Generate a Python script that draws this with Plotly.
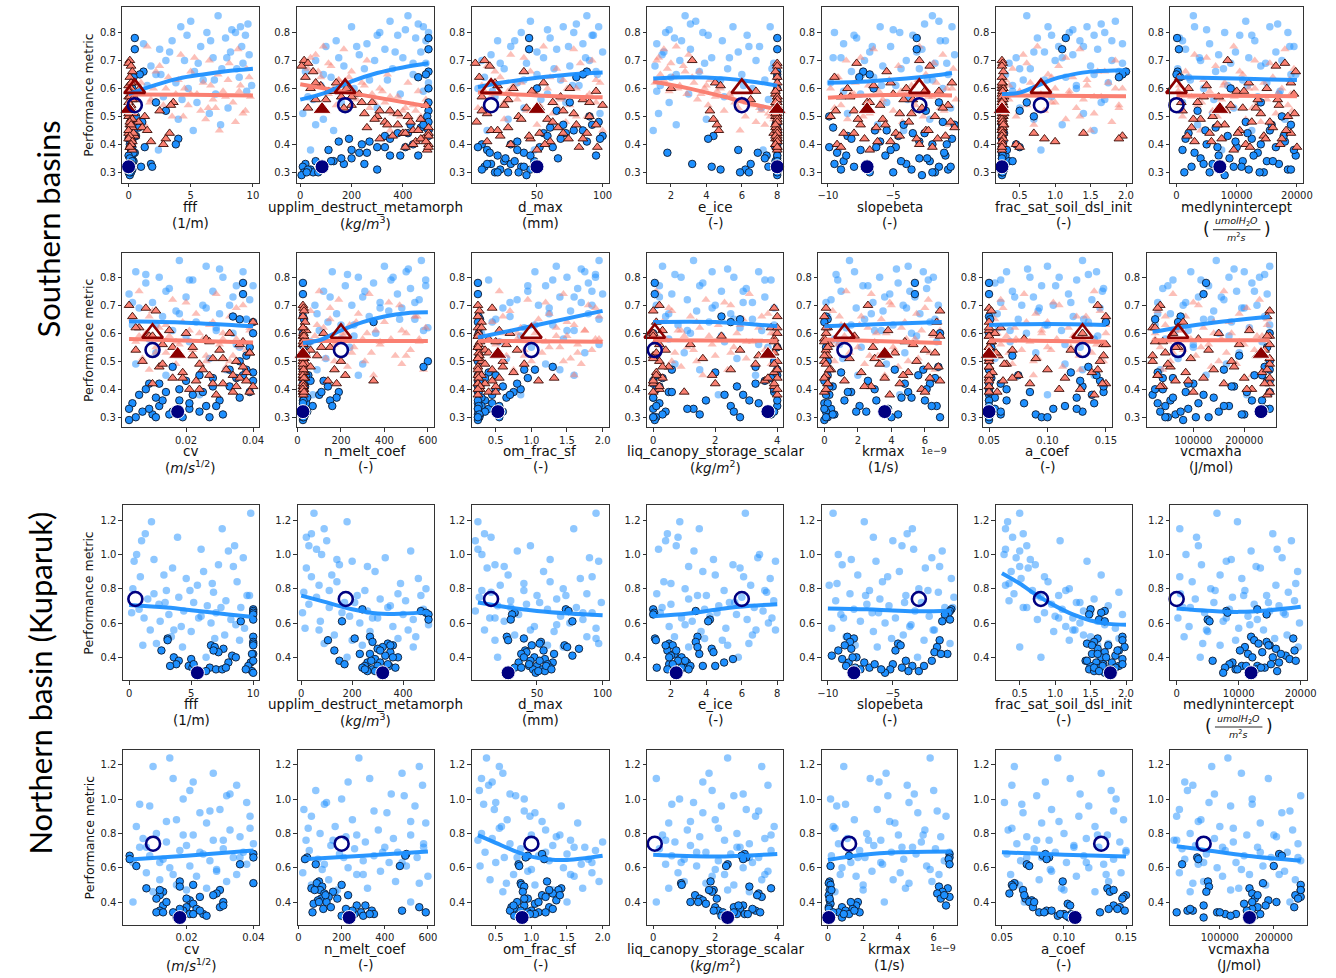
import plotly.graph_objects as go

W, H = 1336, 978

# ---------------- shared performance-metric values (y) ----------------
# Southern basins
S_LB_Y = [0.86,0.84,0.82,0.82,0.80,0.80,0.79,0.78,0.77,0.76,0.75,0.74,0.73,0.72,0.71,0.70,0.70,0.69,0.68,0.67,0.66,0.65,0.64,0.63,0.62,0.61,0.60,0.58,0.57,0.55,0.53,0.51,0.49,0.47,0.45,0.38]
S_LB_Y2 = [0.83,0.81,0.79,0.77,0.75,0.73,0.71,0.69,0.67,0.65,0.63,0.61,0.59,0.56]
S_DB_Y = [0.78,0.74,0.66,0.65,0.64,0.60,0.55,0.52,0.50,0.48,0.47,0.46,0.45,0.44,0.43,0.42,0.41,0.40,0.39,0.39,0.38,0.37,0.36,0.36,0.35,0.34,0.34,0.33,0.33,0.32,0.32,0.31,0.31,0.30,0.30,0.29]
S_DB_Y2 = [0.47,0.45,0.44,0.43,0.42,0.41,0.40,0.39,0.38,0.37,0.36,0.35,0.34,0.33,0.32,0.31,0.30,0.30]
S_LS_Y = [0.75,0.74,0.72,0.70,0.68,0.67,0.66,0.65,0.64,0.63,0.62,0.62,0.61,0.60,0.60,0.59,0.58,0.58,0.57,0.56,0.56,0.55,0.54,0.54,0.53,0.52,0.51,0.50,0.49,0.48,0.47,0.45]
S_LS_Y2 = [0.71,0.69,0.66,0.64,0.63,0.61,0.60,0.59,0.58,0.57,0.55,0.53,0.52,0.50]
S_DS_Y = [0.70,0.69,0.68,0.66,0.64,0.62,0.61,0.60,0.60,0.59,0.58,0.57,0.56,0.55,0.54,0.54,0.53,0.52,0.51,0.50,0.50,0.49,0.48,0.47,0.46,0.46,0.45,0.44,0.44,0.43,0.42,0.42,0.41,0.40,0.39,0.38]
S_DS_Y2 = [0.62,0.59,0.57,0.56,0.55,0.53,0.52,0.51,0.49,0.48,0.47,0.45,0.44,0.43,0.42,0.41,0.40,0.39]
# Northern basin
N_LB_Y = [1.24,1.19,1.15,1.12,1.08,1.05,1.02,1.00,0.98,0.96,0.94,0.92,0.90,0.88,0.86,0.84,0.82,0.80,0.79,0.78,0.77,0.76,0.75,0.74,0.73,0.72,0.71,0.70,0.69,0.68,0.67,0.66,0.65,0.64,0.63,0.62,0.61,0.60,0.58,0.57,0.56,0.55,0.53,0.52,0.50,0.48,0.46,0.40]
N_LB_Y2 = [1.10,1.03,0.97,0.93,0.87,0.83,0.79,0.76,0.72,0.69,0.66,0.63,0.59,0.56,0.51,0.47]
N_DB_Y = [0.68,0.67,0.66,0.65,0.62,0.61,0.52,0.51,0.50,0.49,0.48,0.47,0.46,0.45,0.44,0.43,0.42,0.41,0.40,0.39,0.38,0.37,0.37,0.36,0.35,0.35,0.34,0.34,0.33,0.33,0.32,0.31]
N_DB_Y2 = [0.47,0.44,0.42,0.40,0.38,0.36,0.35,0.34,0.33,0.32]

# ---------------- parameter values (x), southern ----------------
fff_s_lb = [7.2,5.0,4.2,9.0,6.3,8.6,9.4,7.8,3.5,1.2,5.8,2.5,8.2,9.7,6.8,4.5,3.0,9.2,1.8,7.5,5.3,2.2,8.9,6.0,3.8,9.9,4.8,7.0,2.8,5.5,8.0,6.5,4.0,7.4,5.2,2.4]
fff_s_lb2 = [9.6,8.3,4.7,6.6,9.1,3.3,7.9,5.6,8.7,2.6,6.9,1.5,9.5,4.3]
fff_s_db = [0.5,0.5,1.2,0.9,0.4,0.3,2.2,3.0,0.6,1.1,0.2,0.8,0.4,0.1,0.6,4.0,0.2,3.8,0.1,0.3,0.2,0.5,0.1,0.3,0.2,0.1,0.4,1.8,0.2,1.9,0.1,0.3,0.2,0.1,0.0,0.1]
fff_s_db2 = [0.3,0.1,0.2,0.5,0.0,0.3,0.1,1.3,0.2,0.4,0.0,0.1,0.3,0.2,1.0,0.0,0.2,0.1]
fff_s_ls = [1.5,8.8,4.2,6.5,2.5,9.5,5.0,7.2,3.2,8.0,1.0,6.0,9.0,4.5,2.0,7.6,5.5,3.8,9.8,6.8,1.8,8.4,4.8,2.8,7.0,5.8,9.2,3.5,6.2,8.6,1.3,7.3]
fff_s_ls2 = [5.3,8.1,2.2,9.7,4.0,6.6,3.0,8.9,5.0,7.8,1.7,6.4,9.4,4.4]
fff_s_ds = [0.1,0.0,0.2,0.3,0.1,0.4,0.0,0.2,0.9,0.1,0.3,0.0,0.6,3.6,3.4,0.2,0.1,2.5,0.4,1.3,0.0,0.2,0.8,0.1,0.3,1.1,1.5,3.3,0.0,0.5,3.0,0.2,1.8,2.8,0.1,0.3]
fff_s_ds2 = [0.2,0.0,0.1,0.3,0.0,0.2,0.1,0.0,0.3,0.1,0.2,0.0,0.4,0.1,0.0,0.3,0.2,0.1]

upplim_s_lb = [420,350,200,480,310,500,380,450,140,260,100,330,470,230,400,60,290,490,170,360,20,440,120,270,500,80,210,390,30,160,300,10,90,60,130,40]
upplim_s_lb2 = [460,410,300,490,220,370,150,440,250,90,340,180,480,50]
upplim_s_db = [500,500,500,490,460,500,500,500,495,500,430,470,500,380,330,190,150,240,410,300,110,260,460,350,200,60,130,20,170,10,80,40,300,15,50,5]
upplim_s_db2 = [480,500,420,500,350,270,440,330,200,230,390,160,120,250,90,30,70,25]
upplim_s_ls = [90,170,60,260,120,30,200,340,80,150,420,240,50,310,180,460,110,280,380,220,490,330,140,440,270,400,360,470,300,430,500,350]
upplim_s_ls2 = [40,110,70,190,150,250,130,320,210,350,290,410,450,390]
upplim_s_ds = [15,30,5,50,20,140,80,180,40,110,230,160,60,280,200,490,30,350,250,420,300,470,330,380,500,260,440,400,500,360,480,310,450,500,410,495]
upplim_s_ds2 = [60,130,200,100,240,170,310,380,290,430,340,460,410,500,470,490,440,500]

dmax_s_lb = [88,45,97,70,38,78,92,60,20,85,30,65,100,15,55,90,8,42,75,25,95,50,10,68,35,82,5,58,18,72,40,98,28,62,12,48]
dmax_s_lb2 = [80,58,93,33,74,50,87,22,63,96,40,77,16,53]
dmax_s_db = [44,44,88,85,80,50,75,65,90,97,70,60,78,55,100,98,35,8,5,62,12,40,95,20,66,25,48,15,30,38,10,22,45,18,28,42]
dmax_s_db2 = [92,85,72,58,68,88,30,52,35,14,45,26,33,12,40,8,20,36]
dmax_s_ls = [55,78,30,92,12,65,45,85,22,70,38,98,8,58,80,28,48,90,15,68,35,95,52,75,5,42,62,88,25,72,50,100]
dmax_s_ls2 = [40,83,18,60,95,32,73,10,50,88,25,66,45,80]
dmax_s_ds = [10,3,14,40,6,55,20,75,32,95,48,8,85,62,25,100,42,70,12,90,36,58,4,80,28,66,15,52,88,22,74,45,60,30,82,50]
dmax_s_ds2 = [18,46,68,28,90,52,8,78,38,62,95,20,70,44,85,12,56,96]

eice_s_lb = [2.8,3.4,5.5,7.6,1.7,3.8,6.3,2.2,4.9,1.2,7.0,3.1,5.8,1.5,4.3,6.8,2.5,7.8,1.1,5.2,3.6,6.0,2.0,7.3,4.6,1.4,6.6,3.0,5.0,1.9,7.1,1.3,4.0,2.3,1.0,7.2]
eice_s_lb2 = [3.1,1.9,4.1,2.6,6.4,1.6,5.3,3.9,7.7,2.3,4.8,6.1,1.2,7.5]
eice_s_db = [8,8,8,8,8,8,8,8,8,8,7.9,8,8,8,4.4,4.1,8,8,8,7.9,5.8,1.8,7.4,8,8,8,7.9,3.2,6.5,4.3,7.5,4.8,6.2,8,6.4,8]
eice_s_db2 = [8,8,8,7.9,8,8,8,7.9,8,6.9,8,7.3,8,8,7.8,8,5.9,8]
eice_s_ls = [2.3,1.6,3.0,1.2,2.7,1.8,3.6,1.4,2.1,4.2,3.3,1.1,2.5,4.8,3.9,1.9,5.3,2.9,4.5,6.0,3.5,5.6,6.5,4.1,7.0,5.0,7.5,6.2,7.8,6.8,7.3,5.9]
eice_s_ls2 = [1.3,2.0,2.8,3.2,1.6,4.0,2.4,4.6,3.7,5.4,6.3,5.8,7.1,7.6]
eice_s_ds = [3.2,8,8,7.9,8,4.5,4.8,2.0,8,6.8,7.9,8,6.5,8,7.9,8,8,4.2,8,7.9,8,4.4,8,4.6,8,7.9,4.7,8,7.8,8,7.9,8,8,7.9,8,8]
eice_s_ds2 = [8,7.9,8,8,7.9,8,8,7.9,8,8,7.9,8,8,7.9,8,8,7.9,8]

slope_s_lb = [-2.0,-1.5,-0.5,-6.0,-9.5,-4.5,-3.5,-7.8,-1.0,-8.8,-5.2,-2.8,-6.8,-0.3,-9.0,-4.0,-7.2,-1.8,-5.8,-3.0,-8.2,-0.8,-6.5,-2.4,-9.8,-4.8,-1.2,-7.5,-3.8,-5.5,-0.6,-8.5,-2.2,-6.2,-4.2,-9.2]
slope_s_lb2 = [-2.6,-5.0,-8.0,-1.4,-6.6,-3.2,-9.6,-0.9,-4.4,-7.4,-2.0,-5.9,-8.8,-3.9]
slope_s_db = [-3.2,-3.2,-7.3,-6.8,-7.6,-6.5,-1.5,-2.5,-9.9,-1.2,-4.2,-9.6,-5.5,-3.5,-8.5,-0.5,-6.0,-2.0,-9.9,-4.8,-7.5,-9.3,-1.0,-5.6,-3.0,-8.8,-2.2,-9.5,-4.0,-1.5,-8.0,-3.6,-0.8,-5.0,-1.8,-2.8]
slope_s_db2 = [-0.3,-6.4,-2.6,-4.6,-8.2,-3.0,-0.9,-6.3,-5.2,-1.1,-8.6,-2.4,-4.4,-7.0,-0.6,-9.0,-6.8,-2.0]
slope_s_ls = [-3.0,-6.5,-1.2,-8.6,-4.6,-0.4,-7.2,-2.5,-9.3,-5.3,-1.7,-7.9,-3.6,-9.8,-0.9,-6.1,-4.0,-8.2,-2.0,-5.8,-0.2,-7.0,-3.3,-9.0,-1.4,-5.0,-6.8,-2.7,-8.5,-4.3,-0.7,-6.3]
slope_s_ls2 = [-7.5,-1.9,-5.5,-9.2,-3.1,-6.9,-0.5,-4.4,-8.0,-2.3,-5.9,-9.5,-1.1,-7.3]
slope_s_ds = [-3.0,-7.8,-2.2,-5.5,-9.5,-0.5,-6.5,-4.0,-8.5,-1.5,-5.0,-9.0,-3.5,-7.0,-0.8,-6.0,-2.8,-8.0,-4.5,-9.8,-1.8,-5.8,-3.8,-7.5,-0.3,-6.3,-2.5,-8.8,-4.8,-1.0,-7.2,-3.2,-5.2,-9.3,-2.0,-6.8]
slope_s_ds2 = [-5.2,-2.6,-8.3,-4.2,-6.8,-1.2,-9.4,-3.6,-7.7,-0.6,-5.6,-2.3,-8.0,-4.5,-1.6,-6.2,-3.0,-9.0]

frac_s_lb = [0.6,1.85,1.45,0.9,1.7,1.2,1.55,0.75,1.35,1.95,1.05,1.6,0.85,1.25,0.45,1.8,1.0,0.35,1.5,0.65,1.9,0.3,1.15,0.55,1.75,0.4,1.3,0.27,0.95,1.65,0.5,1.4,0.7,1.1,1.55,0.8]
frac_s_lb2 = [1.65,1.25,0.95,1.8,1.4,0.7,1.1,1.95,0.5,1.55,0.85,1.3,0.4,1.7]
frac_s_db = [1.15,1.1,2.0,1.95,1.9,0.25,0.6,0.5,0.7,0.25,0.26,0.25,0.25,0.27,0.25,0.25,0.26,0.45,0.25,0.5,0.25,0.26,0.25,0.3,0.25,0.26,0.35,0.25,0.27,0.25,0.26,0.25,0.27,0.26,0.25,0.25]
frac_s_db2 = [0.25,0.26,0.28,0.25,0.25,0.27,0.26,0.25,0.32,0.25,0.26,0.25,0.4,0.25,0.26,0.28,0.25,0.26]
frac_s_ls = [0.75,1.35,0.55,1.85,1.05,0.4,1.6,0.9,1.25,0.3,1.75,0.65,1.45,1.0,1.95,0.5,1.2,0.8,1.65,0.35,1.4,0.95,1.9,0.6,1.3,0.85,1.55,0.45,1.15,1.8,0.7,1.5]
frac_s_ls2 = [1.15,0.6,1.7,0.95,1.45,0.35,1.85,1.2,0.7,1.55,1.0,1.9,0.5,1.35]
frac_s_ds = [0.25,0.26,0.25,0.27,0.25,0.26,0.25,0.25,0.27,0.26,0.25,0.28,0.25,0.26,0.25,0.27,0.25,0.26,0.25,0.27,0.25,0.26,0.25,0.28,0.25,0.26,0.25,1.4,0.7,1.95,0.85,1.9,1.0,0.45,0.5,0.25]
frac_s_ds2 = [0.25,0.26,0.25,0.27,0.25,0.26,0.25,0.28,0.25,0.26,0.27,0.25,0.26,0.25,0.27,0.25,0.26,0.25]

medlyn_s_lb = [2800,11500,3000,15500,8000,18500,10500,500,13000,5500,19500,1500,16500,7000,12000,4000,17500,9000,14000,200,6500,19000,2000,11000,15000,8500,4500,17000,13500,1000,9500,6000,18000,3500,12500,7500]
medlyn_s_lb2 = [16800,5000,12500,1000,18800,9800,3800,14800,7800,19800,2300,11800,17200,6200]
medlyn_s_db = [100,400,200,0,600,9000,14000,3500,17500,11500,19000,6500,15500,2000,8500,12500,18000,5000,10000,16500,1000,13500,7000,19800,4000,11000,15000,6000,17000,2500,9500,12000,18500,5500,14500,8000]
medlyn_s_db2 = [15800,4800,11800,17800,1500,9800,14000,6800,19500,3000,12800,8800,16000,4500,10800,19000,1300,13800]
medlyn_s_ls = [9500,18000,3000,13000,6500,19500,1500,11000,16000,4500,8000,14500,500,12000,17500,5500,10000,19000,2500,7500,15000,13500,3500,18500,9000,6000,16500,1000,11500,14000,7000,4000]
medlyn_s_ls2 = [5000,15500,10500,2000,18800,7800,13000,300,16800,9600,4200,12600,19200,6800]
medlyn_s_ds = [8500,18000,16500,19800,500,12000,5000,15000,2000,10000,19500,7000,13500,3500,17000,9000,11000,1000,14000,6000,18500,4000,12500,8000,16000,2500,10500,19000,5500,14500,7500,17500,3000,11500,20000,9500]
medlyn_s_ds2 = [19000,11200,4500,16800,800,13200,8200,19600,2800,15500,6800,18200,10200,1800,14800,5800,17200,12200]

cv_s_lb = [0.018,0.026,0.037,0.005,0.012,0.031,0.022,0.008,0.035,0.015,0.028,0.003,0.020,0.039,0.010,0.025,0.033,0.006,0.017,0.030,0.013,0.038,0.023,0.004,0.029,0.016,0.034,0.009,0.021,0.036,0.011,0.027,0.005,0.032,0.014,0.024]
cv_s_lb2 = [0.030,0.008,0.021,0.040,0.014,0.034,0.004,0.026,0.018,0.038,0.011,0.029,0.020,0.035]
cv_s_db = [0.037,0.037,0.034,0.036,0.040,0.040,0.039,0.038,0.036,0.016,0.033,0.040,0.024,0.035,0.020,0.009,0.028,0.008,0.039,0.014,0.022,0.011,0.030,0.018,0.004,0.026,0.012,0.003,0.021,0.007,0.016,0.031,0.010,0.005,0.019,0.003]
cv_s_db2 = [0.038,0.037,0.028,0.040,0.012,0.033,0.018,0.025,0.006,0.036,0.013,0.021,0.029,0.009,0.024,0.015,0.011,0.027]
cv_s_ls = [0.006,0.029,0.016,0.037,0.010,0.023,0.033,0.004,0.019,0.027,0.012,0.039,0.021,0.008,0.031,0.015,0.035,0.025,0.005,0.018,0.030,0.011,0.038,0.022,0.014,0.034,0.007,0.026,0.017,0.032,0.009,0.024]
cv_s_ls2 = [0.020,0.035,0.009,0.028,0.014,0.039,0.024,0.006,0.031,0.017,0.036,0.011,0.026,0.033]
cv_s_ds = [0.003,0.008,0.011,0.004,0.040,0.006,0.015,0.020,0.033,0.009,0.026,0.037,0.013,0.022,0.030,0.005,0.039,0.018,0.028,0.007,0.035,0.024,0.012,0.032,0.019,0.038,0.027,0.016,0.036,0.023,0.031,0.010,0.040,0.021,0.034,0.029]
cv_s_ds2 = [0.005,0.010,0.027,0.036,0.016,0.039,0.022,0.031,0.013,0.037,0.025,0.034,0.019,0.038,0.028,0.035,0.024,0.039]

nmelt_s_lb = [570,400,160,500,280,440,590,350,220,520,120,460,300,560,380,80,250,480,420,180,330,540,140,260,600,100,360,200,60,240,40,130,300,90,280,70]
nmelt_s_lb2 = [510,230,430,590,310,150,540,380,90,470,200,580,260,45]
nmelt_s_db = [25,25,25,30,350,25,28,40,600,580,25,30,50,25,120,35,140,25,190,30,100,180,25,150,40,25,70,30,25,28,45,25,35,30,25,25]
nmelt_s_db2 = [25,40,28,60,25,35,30,110,25,45,28,25,160,30,25,35,25,28]
nmelt_s_ls = [100,330,190,470,60,280,550,150,400,240,590,120,360,500,210,80,430,300,560,170,380,260,520,40,340,450,130,310,480,230,580,350]
nmelt_s_ls2 = [420,150,540,270,90,480,320,210,560,380,30,250,500,170]
nmelt_s_ds = [25,28,30,25,35,25,40,27,120,25,30,45,25,150,28,60,25,90,32,25,200,40,25,170,30,25,220,35,25,350,180,28,25,30,25,27]
nmelt_s_ds2 = [25,30,25,28,110,25,35,26,25,60,28,25,30,140,25,27,25,30]

omfrac_s_lb = [1.95,1.35,1.75,1.05,1.9,1.5,0.4,1.8,1.2,1.65,0.95,2.0,1.4,0.8,1.7,1.1,1.85,0.6,1.55,1.25,0.7,1.95,0.45,1.3,0.9,1.6,0.3,1.45,0.55,1.0,1.75,0.65,1.2,1.4,1.6,0.85]
omfrac_s_lb2 = [1.7,1.9,1.3,0.95,1.85,1.6,0.7,1.25,1.8,0.5,1.05,1.5,0.85,1.95]
omfrac_s_db = [0.25,0.25,0.26,0.28,0.25,0.26,0.25,0.27,0.25,1.3,1.05,0.4,0.5,0.95,0.25,0.3,0.6,0.85,0.75,0.25,0.45,0.65,0.26,0.35,0.25,0.55,0.3,0.25,0.4,0.26,0.6,0.25,0.28,0.25,0.27,0.25]
omfrac_s_db2 = [0.9,0.25,0.35,0.27,0.8,0.25,0.5,0.26,0.7,0.3,0.25,0.45,0.26,0.25,0.35,0.27,0.25,0.55]
omfrac_s_ls = [0.55,1.45,0.95,1.8,0.7,1.25,1.95,1.1,0.45,1.6,0.85,1.35,1.75,0.6,1.05,1.5,1.9,0.8,1.2,1.65,0.5,1.4,0.9,1.85,1.15,0.65,1.55,1.0,1.7,1.3,0.75,1.6]
omfrac_s_ls2 = [1.2,1.9,0.6,1.5,1.05,1.75,0.8,1.35,1.95,0.55,1.25,1.65,0.9,1.45]
omfrac_s_ds = [0.25,0.45,0.27,0.25,0.3,0.25,0.55,0.26,0.7,0.25,0.4,0.28,0.65,0.25,0.35,0.8,0.26,0.5,0.25,0.6,0.3,0.9,0.25,0.45,0.27,0.75,0.25,1.32,0.55,1.1,0.35,0.25,0.5,0.28,0.4,0.25]
omfrac_s_ds2 = [0.3,0.25,0.5,0.26,0.25,0.4,0.27,0.25,0.35,0.6,0.25,0.3,0.26,0.45,0.25,0.28,0.25,0.5]

liqcan_s_lb = [1.3,0.3,1.9,3.4,0.9,2.6,3.8,1.6,0.2,3.0,2.2,0.6,3.6,1.1,2.9,0.1,2.0,3.9,1.4,2.5,0.4,3.2,1.8,0.8,2.8,3.5,1.2,0.5,2.3,3.7,1.0,2.7,0.7,1.5,3.3,2.1]
liqcan_s_lb2 = [2.4,0.7,3.6,1.5,2.9,0.2,3.2,1.9,0.5,2.6,3.9,1.1,2.2,3.4]
liqcan_s_db = [0.05,0.05,2.2,2.8,2.5,0.0,4.0,0.1,3.9,3.3,0.6,2.0,4.0,0.3,3.6,0.0,2.7,0.1,3.9,0.5,2.3,0.0,1.7,3.1,0.2,2.5,4.0,0.0,1.3,0.4,2.6,1.5,3.8,0.1,0.0,0.05]
liqcan_s_db2 = [4.0,0.1,3.8,0.0,3.3,0.2,3.9,0.6,2.9,0.0,4.0,3.4,0.1,1.1,3.9,0.3,2.8,0.0]
liqcan_s_ls = [0.1,3.1,1.7,2.5,0.6,3.7,1.2,2.9,0.3,2.1,3.4,1.5,0.8,2.7,3.9,1.0,2.3,0.4,3.2,1.9,0.2,2.6,3.6,1.3,0.7,2.0,3.0,1.4,3.8,0.9,2.4,1.6]
liqcan_s_ls2 = [2.3,0.5,3.5,1.4,2.8,0.9,3.8,1.8,0.2,3.0,1.1,2.5,3.7,0.6]
liqcan_s_ds = [0.2,3.9,0.0,4.0,0.1,3.8,0.3,4.0,0.0,2.2,3.9,0.1,1.2,4.0,0.4,2.8,3.9,0.0,1.6,4.0,0.2,3.3,0.5,2.5,3.9,0.1,1.9,4.0,0.3,3.6,0.0,2.0,3.9,0.2,1.0,4.0]
liqcan_s_ds2 = [4.0,0.0,3.9,0.2,4.0,0.1,3.4,0.0,3.9,0.3,4.0,0.1,3.7,0.0,3.9,0.2,4.0,0.0]

# krmax values in units of 1e-9 1/s
krmax_s_lb = [1.5,5.0,1.8,5.9,3.3,6.5,0.8,4.4,2.6,6.1,1.0,3.9,5.4,0.4,2.9,6.8,4.7,1.9,3.5,5.7,0.2,2.4,6.3,4.1,1.3,3.0,5.2,0.6,6.7,2.2,4.8,1.1,3.7,5.9,2.0,4.5]
krmax_s_lb2 = [4.3,0.7,6.2,2.3,5.1,3.6,0.1,4.9,2.8,6.6,1.6,3.4,5.5,0.9]
krmax_s_db = [5.4,5.4,0.1,0.2,0.0,6.9,0.1,3.5,0.2,6.8,4.2,1.0,5.6,0.1,2.6,6.3,0.5,3.0,1.6,5.0,0.3,4.6,1.2,6.0,0.0,2.1,6.7,0.4,3.8,0.1,2.5,4.4,0.6,0.2,6.9,0.0]
krmax_s_db2 = [5.9,0.2,6.6,0.0,4.8,0.3,6.1,1.4,0.1,5.2,3.1,0.2,6.4,0.0,1.9,0.5,4.0,0.1]
krmax_s_ls = [1.3,2.8,6.2,4.0,0.5,5.5,2.2,3.4,6.8,1.0,4.6,2.6,5.8,0.2,3.7,6.5,1.7,4.9,3.0,0.8,5.2,2.0,6.0,4.2,1.5,3.2,5.6,0.6,2.4,4.4,6.6,3.6]
krmax_s_ls2 = [3.9,6.0,0.9,4.8,2.1,6.9,3.1,1.2,5.4,0.4,4.1,6.3,2.7,5.0]
krmax_s_ds = [2.6,0.1,6.9,0.0,6.7,0.2,3.8,0.1,6.5,1.8,0.0,4.8,0.3,2.9,6.0,0.1,4.2,0.2,1.5,5.5,0.0,3.3,6.8,0.4,2.2,5.0,0.1,3.6,6.3,1.2,4.5,0.2,2.8,5.8,0.0,3.9]
krmax_s_ds2 = [0.1,6.9,0.0,5.3,0.2,6.6,0.0,3.0,0.1,6.2,0.3,4.7,0.0,6.9,0.2,2.4,0.1,6.0]

acoef_s_lb = [0.13,0.10,0.065,0.142,0.11,0.085,0.125,0.055,0.095,0.148,0.07,0.118,0.088,0.138,0.06,0.105,0.078,0.145,0.092,0.052,0.122,0.075,0.135,0.098,0.058,0.112,0.082,0.14,0.068,0.128,0.09,0.055,0.115,0.13,0.14,0.1]
acoef_s_lb2 = [0.083,0.135,0.06,0.107,0.147,0.072,0.12,0.093,0.057,0.131,0.1,0.068,0.143,0.115]
acoef_s_db = [0.05,0.05,0.05,0.051,0.15,0.05,0.052,0.07,0.05,0.135,0.05,0.12,0.075,0.05,0.145,0.06,0.13,0.05,0.085,0.148,0.05,0.125,0.065,0.05,0.14,0.05,0.115,0.055,0.105,0.05,0.13,0.06,0.09,0.05,0.095,0.05]
acoef_s_db2 = [0.05,0.142,0.052,0.128,0.05,0.148,0.065,0.05,0.138,0.055,0.05,0.08,0.05,0.125,0.06,0.05,0.1,0.05]
acoef_s_ls = [0.14,0.08,0.06,0.11,0.145,0.09,0.125,0.055,0.1,0.135,0.072,0.118,0.05,0.095,0.15,0.065,0.108,0.13,0.085,0.142,0.06,0.12,0.078,0.103,0.138,0.058,0.092,0.148,0.07,0.113,0.128,0.088]
acoef_s_ls2 = [0.105,0.062,0.133,0.082,0.15,0.095,0.057,0.122,0.073,0.14,0.1,0.067,0.127,0.088]
acoef_s_ds = [0.143,0.05,0.052,0.15,0.05,0.06,0.05,0.13,0.055,0.05,0.08,0.052,0.148,0.05,0.07,0.12,0.05,0.058,0.09,0.05,0.145,0.065,0.05,0.1,0.053,0.138,0.075,0.05,0.115,0.062,0.15,0.085,0.05,0.128,0.057,0.14]
acoef_s_ds2 = [0.05,0.05,0.052,0.15,0.05,0.056,0.148,0.05,0.063,0.05,0.143,0.05,0.07,0.05,0.147,0.05,0.11,0.05]

vcmax_s_lb = [145000,250000,200000,95000,170000,230000,60000,215000,130000,40000,185000,245000,110000,160000,30000,225000,80000,195000,140000,55000,240000,120000,175000,25000,210000,90000,150000,45000,235000,100000,190000,70000,165000,35000,125000,205000]
vcmax_s_lb2 = [180000,240000,115000,50000,220000,155000,85000,200000,30000,135000,250000,65000,170000,100000]
vcmax_s_db = [125000,120000,75000,25000,70000,250000,245000,190000,250000,240000,160000,30000,220000,60000,250000,100000,180000,40000,85000,205000,20000,140000,55000,235000,110000,45000,170000,90000,250000,35000,150000,65000,200000,50000,130000,80000]
vcmax_s_db2 = [250000,235000,40000,245000,90000,175000,25000,250000,120000,60000,215000,30000,160000,240000,75000,195000,45000,105000]
vcmax_s_ls = [160000,60000,230000,110000,30000,190000,85000,245000,140000,45000,210000,120000,70000,175000,25000,235000,95000,155000,50000,200000,130000,35000,220000,80000,165000,105000,250000,55000,185000,135000,40000,215000]
vcmax_s_ls2 = [100000,205000,45000,170000,245000,75000,140000,225000,25000,190000,115000,60000,235000,150000]
vcmax_s_ds = [35000,30000,250000,245000,80000,20000,210000,150000,60000,250000,110000,25000,190000,70000,240000,130000,45000,225000,95000,20000,175000,250000,55000,140000,235000,85000,30000,200000,120000,65000,250000,160000,40000,215000,100000,245000]
vcmax_s_ds2 = [25000,245000,40000,250000,65000,230000,20000,250000,50000,180000,245000,30000,250000,90000,240000,35000,205000,250000]

# ---------------- parameter values (x), northern ----------------
fff_n_lb = [9.8,1.8,7.5,1.3,1.0,8.5,8.0,0.6,9.2,0.4,7.2,3.5,6.0,2.8,4.6,8.7,5.5,0.3,3.0,6.8,2.0,9.5,4.0,1.5,7.8,5.2,2.4,6.3,9.0,0.8,4.4,7.0,3.2,5.8,1.2,8.2,2.5,6.6,4.2,9.3,1.7,5.0,7.7,3.4,8.9,2.2,4.3,6.2]
fff_n_lb2 = [3.9,5.8,2.0,8.4,0.9,6.7,4.9,9.7,2.9,7.4,0.2,5.6,8.6,3.6,6.9,1.1]
fff_n_db = [10,10,10,10,10,9.0,10,3.1,3.1,10,10,6.6,6.9,7.6,2.6,7.2,10,8.3,3.6,5.0,4.0,9.8,8.0,3.8,4.8,9.6,6.5,5.1,7.0,7.5,9.9,10]
fff_n_db2 = [10,6.8,9.9,8.6,10,5.2,3.3,7.8,9.4,6.2]
upplim_n_lb = [50,180,90,40,100,30,430,80,330,200,150,20,290,120,460,140,70,490,250,10,380,220,60,310,410,170,30,350,110,480,260,5,400,190,300,440,75,230,360,15,420,270,130,450,200,90,440,180]
upplim_n_lb2 = [20,60,140,260,40,390,110,470,210,340,160,280,500,70,380,240]
upplim_n_db = [240,470,490,500,500,160,270,210,105,280,340,360,320,300,130,350,270,330,380,290,150,310,260,170,345,250,240,300,280,330,260,320]
upplim_n_db2 = [350,310,230,360,275,340,300,370,250,290]
dmax_n_lb = [95,5,78,10,3,45,35,8,90,97,18,12,55,28,83,60,22,70,40,15,88,50,6,65,30,99,42,20,80,58,3,92,36,68,14,85,25,75,48,95,10,63,33,88,18,97,70,20]
dmax_n_lb2 = [15,5,60,25,92,40,8,72,52,30,85,18,65,45,95,58]
dmax_n_db = [72,74,33,31,30,77,27,40,28,53,52,71,73,82,41,42,38,77,48,56,45,62,36,58,50,44,60,33,54,47,56,49]
dmax_n_db2 = [46,55,63,40,52,44,57,38,61,51]
eice_n_lb = [6.2,2.5,3.6,1.8,1.7,2.3,3.3,7.0,6.9,7.9,5.5,5.9,3.8,4.5,7.6,1.6,6.5,2.8,5.0,7.4,1.2,4.0,6.0,3.0,7.8,5.3,2.0,4.7,6.7,3.9,7.2,1.4,5.7,4.2,2.6,6.3,3.2,7.5,1.9,5.1,7.9,3.7,6.6,2.2,4.9,6.4,3.0,5.8]
eice_n_lb2 = [2.4,1.3,4.4,3.0,6.1,2.0,7.3,3.5,5.6,1.5,4.6,7.7,2.8,6.8,3.9,5.2]
eice_n_db = [1.0,3.4,1.05,1.0,4.2,4.1,3.5,1.1,1.15,3.4,1.9,2.1,3.5,4.3,1.8,4.4,2.2,2.0,2.6,5.5,2.4,5.0,2.9,1.9,3.1,4.5,1.2,2.7,2.5,3.0,2.3,2.4]
eice_n_db2 = [1.7,2.3,3.6,1.9,2.8,2.1,3.8,2.6,1.8,2.2]
slope_n_lb = [-9.6,-7.2,-3.5,-3.9,-5.0,-4.3,-1.2,-9.2,-2.0,-6.3,-8.9,-2.5,-4.5,-7.7,-0.5,-5.8,-9.9,-3.0,-6.8,-1.5,-8.3,-4.0,-0.3,-6.0,-9.4,-2.8,-7.0,-5.3,-1.0,-8.0,-3.3,-6.6,-9.0,-2.2,-4.8,-0.8,-7.5,-5.6,-3.7,-9.7,-1.8,-6.5,-4.2,-8.6,-2.6,-0.6,-6.2,-3.1]
slope_n_lb2 = [-6.5,-3.4,-8.2,-1.4,-5.4,-9.3,-2.3,-7.1,-4.1,-0.4,-6.1,-8.8,-3.6,-1.9,-5.1,-7.9]
slope_n_db = [-0.5,-0.6,-0.7,-1.0,-0.6,-1.2,-8.5,-8.0,-1.4,-8.3,-4.6,-8.7,-1.6,-8.2,-4.8,-1.8,-0.8,-9.7,-7.8,-8.9,-2.0,-8.4,-7.2,-5.0,-3.5,-8.6,-6.8,-4.3,-7.5,-5.2,-3.0,-5.6]
slope_n_db2 = [-4.4,-9.2,-1.3,-8.1,-4.0,-6.4,-2.6,-7.9,-5.9,-3.8]
frac_n_lb = [0.5,0.33,0.3,0.55,1.07,0.6,0.5,0.28,0.45,1.45,0.72,0.62,0.38,1.65,0.52,0.9,0.3,1.2,0.68,1.9,0.42,1.05,0.8,1.55,0.35,1.3,0.95,1.75,0.6,1.1,1.4,0.85,1.95,1.0,1.25,0.75,1.6,1.35,1.15,1.85,1.28,0.98,1.4,1.5,1.2,1.75,0.5,0.8]
frac_n_lb2 = [0.4,0.3,0.65,0.5,0.85,0.35,1.15,0.75,1.35,0.55,1.5,1.05,1.7,1.25,1.9,1.6]
frac_n_db = [1.5,1.7,1.65,1.48,1.62,1.7,1.95,1.6,1.95,1.55,1.45,1.75,1.98,1.6,1.9,1.7,1.52,1.85,1.65,1.95,1.43,1.8,1.58,1.68,1.5,1.9,1.63,1.85,1.48,1.75,1.55,1.7]
frac_n_db2 = [1.52,1.88,1.6,1.72,1.45,1.95,1.67,1.55,1.8,1.62]
medlyn_n_lb = [6500,9800,500,15500,18500,3500,12000,1500,17000,8000,4000,13500,19500,7000,10500,2500,16000,5500,11000,18000,600,14500,9000,3000,19000,6000,12500,16500,1000,8500,15000,4500,17500,11500,200,13000,7500,19800,2000,10000,14000,5000,17800,1200,9500,4200,19600,3800]
medlyn_n_lb2 = [3200,16200,8800,12800,500,19200,6200,10800,14800,2200,17200,8000,11800,4800,15800,7000]
medlyn_n_db = [13000,8000,8200,14500,5000,5300,12000,18800,12500,14500,13200,15000,11000,16000,19000,13800,11500,17600,15500,18200,5800,16500,9000,8500,13000,10500,7800,14200,12800,9500,11800,7500]
medlyn_n_db2 = [14800,10200,16800,12200,19200,15200,11200,13600,9800,16200]
cv_n_lb = [0.015,0.010,0.028,0.016,0.035,0.021,0.032,0.019,0.038,0.009,0.030,0.024,0.039,0.017,0.026,0.005,0.033,0.011,0.022,0.036,0.007,0.028,0.014,0.040,0.020,0.006,0.031,0.018,0.037,0.025,0.009,0.034,0.013,0.027,0.004,0.038,0.021,0.015,0.029,0.008,0.035,0.023,0.012,0.032,0.017,0.026,0.010,0.004]
cv_n_lb2 = [0.022,0.033,0.006,0.027,0.014,0.039,0.019,0.031,0.008,0.024,0.036,0.012,0.029,0.016,0.040,0.020]
cv_n_db = [0.040,0.003,0.040,0.003,0.036,0.005,0.018,0.040,0.022,0.018,0.008,0.030,0.013,0.029,0.012,0.024,0.011,0.021,0.031,0.022,0.013,0.020,0.030,0.023,0.019,0.012,0.011,0.016,0.021,0.025,0.019,0.017]
cv_n_db2 = [0.012,0.028,0.020,0.014,0.031,0.018,0.024,0.013,0.022,0.026]
nmelt_n_lb = [280,560,480,330,575,80,490,200,130,540,25,410,60,250,590,170,370,100,520,220,440,35,310,580,150,400,260,50,460,190,350,550,90,300,420,120,500,230,380,20,270,600,140,450,60,320,170,520]
nmelt_n_lb2 = [230,430,120,350,520,45,270,160,580,390,210,480,110,300,560,180]
nmelt_n_db = [500,495,40,30,80,470,95,85,200,110,60,100,160,120,230,140,105,90,130,70,270,560,150,220,480,340,290,590,350,260,300,240]
nmelt_n_db2 = [75,125,180,95,310,115,250,65,330,200]
omfrac_n_lb = [0.37,0.55,0.6,0.3,0.4,0.27,0.78,0.9,0.5,1.42,0.48,1.05,0.98,0.66,1.65,0.58,1.2,0.3,1.0,1.35,0.45,1.55,2.0,0.7,1.3,1.75,0.85,1.9,0.35,1.5,1.1,0.62,1.8,1.25,0.5,1.7,0.28,1.45,0.95,1.85,0.75,1.6,0.42,1.95,1.05,1.72,0.6,1.5]
omfrac_n_lb2 = [0.45,0.7,0.33,0.9,1.15,0.55,1.4,0.25,1.6,1.2,0.8,1.85,1.0,1.55,0.65,1.3]
omfrac_n_db = [1.15,0.95,0.92,1.18,0.82,0.83,1.22,0.85,0.86,0.9,1.42,1.38,0.88,1.3,1.15,1.2,0.95,1.35,0.8,1.05,0.9,1.25,0.72,0.78,0.7,1.0,1.1,0.95,1.05,0.82,0.9,0.88]
omfrac_n_db2 = [1.25,1.4,0.9,1.1,0.75,1.3,0.85,1.2,0.98,0.76]
liqcan_n_lb = [2.4,3.5,1.8,0.1,3.7,1.9,2.6,0.85,1.3,2.2,3.0,1.6,3.3,2.0,0.5,3.9,1.1,2.7,0.3,1.5,3.6,2.3,0.7,3.1,1.2,2.8,0.2,3.8,1.7,2.5,0.6,3.4,1.0,2.1,3.2,0.4,1.4,2.9,3.7,0.8,2.3,1.9,3.5,1.0,2.6,0.5,3.1,0.1]
liqcan_n_lb2 = [1.6,2.9,0.6,3.4,1.2,2.1,3.8,0.4,2.7,1.4,3.1,0.9,2.0,3.6,1.7,2.4]
liqcan_n_db = [2.95,2.85,3.0,2.9,2.4,2.35,1.85,0.9,0.92,3.1,3.8,1.95,1.9,3.4,1.35,3.5,1.5,1.6,1.2,1.7,2.9,2.6,2.0,2.8,3.3,2.1,2.25,3.45,2.95,2.7,2.2,2.5]
liqcan_n_db2 = [1.8,3.35,2.05,1.45,2.75,3.2,1.95,2.6,3.05,2.35]
krmax_n_lb = [5.8,0.9,3.3,2.4,4.5,6.0,3.4,0.15,4.6,0.5,2.8,5.1,6.7,1.5,3.8,0.3,5.5,2.2,4.0,6.4,1.1,3.0,5.3,0.6,2.6,4.8,6.1,1.8,3.6,5.0,0.2,2.1,4.3,6.6,1.3,3.1,5.6,0.8,2.5,4.1,6.3,1.6,3.7,5.9,2.0,4.4,0.4,3.2]
krmax_n_lb2 = [2.9,4.9,1.0,6.2,3.5,0.4,5.4,2.3,4.2,6.9,1.7,3.0,5.8,0.7,4.6,2.0]
krmax_n_db = [6.9,1.2,6.9,6.85,6.9,0.15,0.1,0.05,0.15,6.3,6.8,0.1,6.5,6.2,0.05,6.9,6.4,0.1,1.7,0.15,1.6,0.05,0.8,1.4,0.1,1.0,0.6,1.8,0.2,1.2,0.1,0.8]
krmax_n_db2 = [0.2,6.6,0.1,1.3,6.7,0.05,1.5,0.3,0.9,0.05]
acoef_n_lb = [0.095,0.06,0.13,0.105,0.058,0.138,0.078,0.142,0.052,0.12,0.09,0.067,0.112,0.148,0.082,0.125,0.055,0.1,0.135,0.07,0.118,0.088,0.145,0.062,0.108,0.128,0.076,0.15,0.093,0.054,0.116,0.082,0.14,0.065,0.102,0.132,0.072,0.12,0.09,0.146,0.057,0.11,0.08,0.136,0.064,0.098,0.125,0.068]
acoef_n_lb2 = [0.085,0.113,0.066,0.14,0.096,0.058,0.127,0.078,0.108,0.15,0.07,0.118,0.089,0.134,0.061,0.1]
acoef_n_db = [0.085,0.083,0.088,0.086,0.07,0.072,0.099,0.06,0.058,0.059,0.135,0.067,0.137,0.056,0.15,0.148,0.069,0.074,0.072,0.103,0.14,0.145,0.075,0.143,0.086,0.149,0.08,0.129,0.1,0.106,0.095,0.104]
acoef_n_db2 = [0.14,0.068,0.147,0.076,0.105,0.136,0.09,0.084,0.097,0.102]
vcmax_n_lb = [115000,85000,140000,190000,50000,40000,250000,160000,80000,120000,25000,215000,20000,65000,175000,100000,235000,45000,150000,205000,90000,15000,125000,245000,55000,170000,30000,110000,225000,75000,145000,195000,35000,250000,130000,60000,180000,95000,220000,25000,155000,105000,240000,70000,185000,135000,45000,230000]
vcmax_n_lb2 = [35000,90000,160000,230000,60000,125000,200000,20000,105000,175000,245000,70000,140000,210000,50000,120000]
vcmax_n_db = [210000,215000,58000,60000,30000,200000,78000,180000,250000,80000,155000,250000,75000,160000,240000,250000,165000,190000,205000,145000,70000,170000,238000,160000,50000,40000,95000,20000,130000,110000,165000,70000]
vcmax_n_db2 = [250000,170000,245000,160000,185000,45000,150000,100000,175000,120000]

# ---------------- highlighted runs ----------------
DEFAULT_X = [0.5, 175, 15, 6, -3, 0.8, 0, 0.01, 200, 1.0, 0.05, 1.2, 0.13, 70000]
S_BEST_X = [0.0, 85, 50, 8, -7, 0.25, 7200, 0.0175, 25, 0.53, 3.7, 3.6, 0.05, 233000]
N_BEST_X = [5.5, 320, 28, 2.3, -8, 1.78, 12000, 0.018, 235, 0.87, 2.4, 0.05, 0.109, 155000]
S_DEFAULT_TRI_Y = 0.60
S_DEFAULT_CIRC_Y = 0.54
S_BEST_TRI_Y = 0.525
S_BEST_CIRC_Y = 0.32
N_DEFAULT_Y = 0.74
N_BEST_Y = 0.31

# ---------------- smoothed trends ----------------
S_BLUE_TX = [[0,2,4,6,8,10],[0,100,200,300,400,500],[5,25,50,75,100],[1,3,5,6.5,8],[-10,-7,-4,-2,-0.5],
             [0.25,0.5,0.75,1.0,1.25,1.5,2.0],[0,10000,20000],[0.003,0.02,0.04],[25,100,200,300,400,500,600],
             [0.25,1.0,2.0],[0,2,4],[0,3.5,7],[0.05,0.1,0.15],[20000,70000,150000,250000]]
S_BLUE_TY = [[0.58,0.61,0.635,0.65,0.662,0.67],[0.56,0.585,0.625,0.655,0.675,0.69],[0.605,0.622,0.638,0.65,0.657],
             [0.635,0.64,0.635,0.625,0.61],[0.62,0.625,0.635,0.645,0.655],[0.58,0.585,0.61,0.635,0.65,0.66,0.665],
             [0.64,0.635,0.63],[0.643,0.638,0.625],[0.565,0.575,0.61,0.64,0.66,0.672,0.675],[0.585,0.625,0.68],
             [0.64,0.64,0.625],[0.625,0.633,0.64],[0.63,0.633,0.63],[0.605,0.62,0.64,0.66]]
S_SALM_TX = [[0,5,10],[0,250,500],[5,50,100],[1,3,5,6.5,8],[-10,-7,-4,-0.5],[0.25,2.0],[0,20000],[0.003,0.04],
             [25,600],[0.25,2.0],[0,4],[0,7],[0.05,0.15],[20000,250000]]
S_SALM_TY = [[0.578,0.577,0.575],[0.615,0.575,0.535],[0.585,0.575,0.568],[0.625,0.6,0.57,0.545,0.525],
             [0.567,0.575,0.577,0.575],[0.575,0.572],[0.575,0.572],[0.58,0.567],[0.572,0.572],[0.573,0.57],
             [0.575,0.573],[0.578,0.565],[0.575,0.57],[0.575,0.575]]
N_TX = [[0,3,5,8,10],[0,100,200,300,400,500],[5,25,50,75,100],[1,3,5,6.5,8],[-10,-7,-5,-3,-0.5],
        [0.25,0.5,0.75,1.0,1.25,1.5,1.75,2.0],[0,5000,10000,15000,20000],[0.003,0.02,0.04],[25,300,600],
        [0.25,0.5,0.75,1.0,1.25,1.5,1.75,2.0],[0,2,4],[0,2,4,7],[0.05,0.1,0.15],[20000,70000,150000,250000]]
N_TY = [[0.705,0.69,0.675,0.65,0.635],[0.76,0.72,0.68,0.655,0.655,0.665],[0.72,0.695,0.67,0.655,0.645],
        [0.64,0.655,0.685,0.7,0.71],[0.685,0.68,0.673,0.668,0.672],[0.89,0.83,0.76,0.7,0.65,0.615,0.595,0.59],
        [0.685,0.672,0.665,0.675,0.695],[0.648,0.67,0.70],[0.65,0.67,0.695],
        [0.79,0.745,0.7,0.665,0.648,0.645,0.655,0.67],[0.675,0.665,0.68],[0.645,0.675,0.69,0.695],
        [0.69,0.675,0.665],[0.725,0.705,0.67,0.64]]

# ---------------- axis labels / ticks ----------------
NAMES = ["fff","upplim_destruct_metamorph","d_max","e_ice","slopebeta","frac_sat_soil_dsl_init","medlynintercept",
         "cv","n_melt_coef","om_frac_sf","liq_canopy_storage_scalar","krmax","a_coef","vcmaxha"]
UNITS = ["(1/m)","(<i>kg</i>/<i>m</i><sup>3</sup>)","(mm)","(-)","(-)","(-)",None,
         "(<i>m</i>/<i>s</i><sup>1/2</sup>)","(-)","(-)","(<i>kg</i>/<i>m</i><sup>2</sup>)","(1/s)","(-)","(J/mol)"]
XTICKS = [[0,5,10],[0,200,400],[50,100],[2,4,6,8],[-10,-5],[0.5,1.0,1.5,2.0],[0,10000,20000],
          [0.02,0.04],[0,200,400,600],[0.5,1.0,1.5,2.0],[0,2,4],[0,2,4,6],[0.05,0.10,0.15],[100000,200000]]
XTICKTEXT = [["0","5","10"],["0","200","400"],["50","100"],["2","4","6","8"],["\u221210","\u22125"],
             ["0.5","1.0","1.5","2.0"],["0","10000","20000"],["0.02","0.04"],["0","200","400","600"],
             ["0.5","1.0","1.5","2.0"],["0","2","4"],["0","2","4","6"],["0.05","0.10","0.15"],["100000","200000"]]
S_YTICKS = [0.3,0.4,0.5,0.6,0.7,0.8]
S_YTICKTEXT = ["0.3","0.4","0.5","0.6","0.7","0.8"]
N_YTICKS = [0.4,0.6,0.8,1.0,1.2]
N_YTICKTEXT = ["0.4","0.6","0.8","1.0","1.2"]

# ---------------- layout geometry (pixels) ----------------
XRANGE = [[-0.5,10.5],[-14,522],[0.25,104.75],[0.65,8.35],[-10.475,-0.025],[0.1625,2.0875],[-1000,21000],
          [0.001,0.0418],[-3.75,628.75],[0.1625,2.0875],[-0.2,4.2],[-0.35,7.35],[0.045,0.155],[8500,261500]]
ROW_X = [
    [(118.7,257),(295,434),(472,610.7),(649.3,787.3),(826,964),(1002,1140),(1178.7,1312.7)],
    [(118.7,257),(295,434),(472,610.7),(649.3,787.3),(822.7,953.3),(989.3,1119.3),(1154.7,1285)],
    [(119.3,257.3),(296,434),(472,610.7),(649.3,787.3),(826,963.3),(1002,1140),(1178.7,1316.7)],
    [(119.3,257.3),(296,434),(472,610.7),(649.3,787.3),(826,963.3),(1002,1140),(1178.7,1316.7)],
]
ROW_Y = [(6.7,182.7),(252.7,427.3),(505.3,680),(750,924.7)]
YRANGE = [[0.263,0.892],[0.264,0.888],[0.268,1.286],[0.268,1.286]]

S_SETS = [
    (fff_s_lb+fff_s_lb2, fff_s_db+fff_s_db2, fff_s_ls+fff_s_ls2, fff_s_ds+fff_s_ds2),
    (upplim_s_lb+upplim_s_lb2, upplim_s_db+upplim_s_db2, upplim_s_ls+upplim_s_ls2, upplim_s_ds+upplim_s_ds2),
    (dmax_s_lb+dmax_s_lb2, dmax_s_db+dmax_s_db2, dmax_s_ls+dmax_s_ls2, dmax_s_ds+dmax_s_ds2),
    (eice_s_lb+eice_s_lb2, eice_s_db+eice_s_db2, eice_s_ls+eice_s_ls2, eice_s_ds+eice_s_ds2),
    (slope_s_lb+slope_s_lb2, slope_s_db+slope_s_db2, slope_s_ls+slope_s_ls2, slope_s_ds+slope_s_ds2),
    (frac_s_lb+frac_s_lb2, frac_s_db+frac_s_db2, frac_s_ls+frac_s_ls2, frac_s_ds+frac_s_ds2),
    (medlyn_s_lb+medlyn_s_lb2, medlyn_s_db+medlyn_s_db2, medlyn_s_ls+medlyn_s_ls2, medlyn_s_ds+medlyn_s_ds2),
    (cv_s_lb+cv_s_lb2, cv_s_db+cv_s_db2, cv_s_ls+cv_s_ls2, cv_s_ds+cv_s_ds2),
    (nmelt_s_lb+nmelt_s_lb2, nmelt_s_db+nmelt_s_db2, nmelt_s_ls+nmelt_s_ls2, nmelt_s_ds+nmelt_s_ds2),
    (omfrac_s_lb+omfrac_s_lb2, omfrac_s_db+omfrac_s_db2, omfrac_s_ls+omfrac_s_ls2, omfrac_s_ds+omfrac_s_ds2),
    (liqcan_s_lb+liqcan_s_lb2, liqcan_s_db+liqcan_s_db2, liqcan_s_ls+liqcan_s_ls2, liqcan_s_ds+liqcan_s_ds2),
    (krmax_s_lb+krmax_s_lb2, krmax_s_db+krmax_s_db2, krmax_s_ls+krmax_s_ls2, krmax_s_ds+krmax_s_ds2),
    (acoef_s_lb+acoef_s_lb2, acoef_s_db+acoef_s_db2, acoef_s_ls+acoef_s_ls2, acoef_s_ds+acoef_s_ds2),
    (vcmax_s_lb+vcmax_s_lb2, vcmax_s_db+vcmax_s_db2, vcmax_s_ls+vcmax_s_ls2, vcmax_s_ds+vcmax_s_ds2),
]
N_SETS = [
    (fff_n_lb+fff_n_lb2, fff_n_db+fff_n_db2), (upplim_n_lb+upplim_n_lb2, upplim_n_db+upplim_n_db2),
    (dmax_n_lb+dmax_n_lb2, dmax_n_db+dmax_n_db2), (eice_n_lb+eice_n_lb2, eice_n_db+eice_n_db2),
    (slope_n_lb+slope_n_lb2, slope_n_db+slope_n_db2), (frac_n_lb+frac_n_lb2, frac_n_db+frac_n_db2),
    (medlyn_n_lb+medlyn_n_lb2, medlyn_n_db+medlyn_n_db2), (cv_n_lb+cv_n_lb2, cv_n_db+cv_n_db2),
    (nmelt_n_lb+nmelt_n_lb2, nmelt_n_db+nmelt_n_db2), (omfrac_n_lb+omfrac_n_lb2, omfrac_n_db+omfrac_n_db2),
    (liqcan_n_lb+liqcan_n_lb2, liqcan_n_db+liqcan_n_db2), (krmax_n_lb+krmax_n_lb2, krmax_n_db+krmax_n_db2),
    (acoef_n_lb+acoef_n_lb2, acoef_n_db+acoef_n_db2), (vcmax_n_lb+vcmax_n_lb2, vcmax_n_db+vcmax_n_db2),
]
SY_LB, SY_DB, SY_LS, SY_DS = S_LB_Y + S_LB_Y2, S_DB_Y + S_DB_Y2, S_LS_Y + S_LS_Y2, S_DS_Y + S_DS_Y2
NY_LB, NY_DB = N_LB_Y + N_LB_Y2, N_DB_Y + N_DB_Y2

def check(name, xs, ys):
    if len(xs) != len(ys):
        raise ValueError(f"{name}: {len(xs)} x vs {len(ys)} y")

for i, (a, b, c, d) in enumerate(S_SETS):
    check(f"S{i}lb", a, SY_LB); check(f"S{i}db", b, SY_DB)
    check(f"S{i}ls", c, SY_LS); check(f"S{i}ds", d, SY_DS)
for i, (a, b) in enumerate(N_SETS):
    check(f"N{i}lb", a, NY_LB); check(f"N{i}db", b, NY_DB)

# ---------------- styles ----------------
FONT = "DejaVu Sans"
LB_C = "rgba(30,144,255,0.5)"
DB_C = "#1E90FF"
LS_C = "rgba(250,128,114,0.5)"
DS_C = "#FA8072"
BLUE_LINE = "rgba(30,144,255,0.95)"
SALM_LINE = "#FA8072"
DARKRED = "#8B0000"
NAVY = "#000080"

def px_x(p):
    return p / W

def px_y(p):
    return 1 - p / H

fig = go.Figure()
layout = {}
annotations = []
shapes = []

axis_style = dict(showgrid=False, zeroline=False, showline=True, mirror=True, linecolor="#333",
                  linewidth=1, ticks="outside", ticklen=3.5, tickwidth=0.8, tickcolor="#333",
                  tickfont=dict(family=FONT, size=10, color="#222"))

def sc(x, y, ax, ay, **kw):
    return go.Scatter(x=x, y=y, xaxis=ax, yaxis=ay, hoverinfo="skip", cliponaxis=False, **kw)

for r in range(4):
    south = r < 2
    for c in range(7):
        n = r * 7 + c + 1
        pi = (r % 2) * 7 + c
        sfx = "" if n == 1 else str(n)
        ax, ay = "x" + sfx, "y" + sfx
        xl, xr = ROW_X[r][c]
        yt, yb = ROW_Y[r]
        layout["xaxis" + sfx] = dict(domain=[px_x(xl), px_x(xr)], range=XRANGE[pi], anchor=ay,
                                     tickvals=XTICKS[pi], ticktext=XTICKTEXT[pi], **axis_style)
        layout["yaxis" + sfx] = dict(domain=[px_y(yb), px_y(yt)], range=YRANGE[r], anchor=ax,
                                     tickvals=S_YTICKS if south else N_YTICKS,
                                     ticktext=S_YTICKTEXT if south else N_YTICKTEXT, **axis_style)
        if south:
            lb, db, ls, ds = S_SETS[pi]
            fig.add_trace(sc(lb, SY_LB, ax, ay, mode="markers",
                             marker=dict(size=7.5, color=LB_C, line=dict(width=0))))
            fig.add_trace(sc(ls, SY_LS, ax, ay, mode="markers",
                             marker=dict(symbol="triangle-up", size=8, color=LS_C, line=dict(width=0))))
            fig.add_trace(sc(db, SY_DB, ax, ay, mode="markers",
                             marker=dict(size=7.5, color=DB_C, line=dict(width=0.9, color="#0b1830"))))
            fig.add_trace(sc(ds, SY_DS, ax, ay, mode="markers",
                             marker=dict(symbol="triangle-up", size=8.5, color=DS_C,
                                         line=dict(width=0.9, color="#3a0a05"))))
            fig.add_trace(sc(S_SALM_TX[pi], S_SALM_TY[pi], ax, ay, mode="lines",
                             line=dict(color=SALM_LINE, width=4, shape="spline")))
            fig.add_trace(sc(S_BLUE_TX[pi], S_BLUE_TY[pi], ax, ay, mode="lines",
                             line=dict(color=BLUE_LINE, width=4, shape="spline")))
            fig.add_trace(sc([S_BEST_X[pi]], [S_BEST_CIRC_Y], ax, ay, mode="markers",
                             marker=dict(size=14, color=NAVY, line=dict(width=1, color="white"))))
            fig.add_trace(sc([S_BEST_X[pi]], [S_BEST_TRI_Y], ax, ay, mode="markers",
                             marker=dict(symbol="triangle-up", size=16, color=DARKRED,
                                         line=dict(width=1, color="white"))))
            fig.add_trace(sc([DEFAULT_X[pi]], [S_DEFAULT_CIRC_Y], ax, ay, mode="markers",
                             marker=dict(symbol="circle-open", size=14, color=NAVY,
                                         line=dict(width=2.6, color=NAVY))))
            fig.add_trace(sc([DEFAULT_X[pi]], [S_DEFAULT_TRI_Y], ax, ay, mode="markers",
                             marker=dict(symbol="triangle-up-open", size=18, color=DARKRED,
                                         line=dict(width=2.6, color=DARKRED))))
        else:
            lb, db = N_SETS[pi]
            fig.add_trace(sc(lb, NY_LB, ax, ay, mode="markers",
                             marker=dict(size=7.5, color=LB_C, line=dict(width=0))))
            fig.add_trace(sc(db, NY_DB, ax, ay, mode="markers",
                             marker=dict(size=7.5, color=DB_C, line=dict(width=0.9, color="#0b1830"))))
            fig.add_trace(sc(N_TX[pi], N_TY[pi], ax, ay, mode="lines",
                             line=dict(color=BLUE_LINE, width=4, shape="spline")))
            fig.add_trace(sc([N_BEST_X[pi]], [N_BEST_Y], ax, ay, mode="markers",
                             marker=dict(size=14, color=NAVY, line=dict(width=1, color="white"))))
            fig.add_trace(sc([DEFAULT_X[pi]], [N_DEFAULT_Y], ax, ay, mode="markers",
                             marker=dict(symbol="circle-open", size=14, color=NAVY,
                                         line=dict(width=2.6, color=NAVY))))

        # x-axis label (two lines)
        cx = (xl + xr) / 2
        annotations.append(dict(text=NAMES[pi], x=px_x(cx), y=px_y(yb + 24), xref="paper", yref="paper",
                                showarrow=False, xanchor="center", yanchor="middle",
                                font=dict(family=FONT, size=13.5, color="#111")))
        if UNITS[pi] is not None:
            annotations.append(dict(text=UNITS[pi], x=px_x(cx), y=px_y(yb + 40), xref="paper", yref="paper",
                                    showarrow=False, xanchor="center", yanchor="middle",
                                    font=dict(family=FONT, size=13.5, color="#111")))
        else:
            for txt, dx, dy, fs in [("(", -31, 46, 17), (")", 31, 46, 17),
                                    ("<i>umolH</i><sub>2</sub><i>O</i>", 0, 39, 9.5),
                                    ("<i>m</i><sup>2</sup><i>s</i>", 0, 54, 9.5)]:
                annotations.append(dict(text=txt, x=px_x(cx + dx), y=px_y(yb + dy), xref="paper", yref="paper",
                                        showarrow=False, xanchor="center", yanchor="middle",
                                        font=dict(family=FONT, size=fs, color="#111")))
            shapes.append(dict(type="line", xref="paper", yref="paper", x0=px_x(cx - 24), x1=px_x(cx + 24),
                               y0=px_y(yb + 47), y1=px_y(yb + 47), line=dict(color="#111", width=0.9)))
        if pi == 11:
            annotations.append(dict(text="1e\u22129", x=px_x(xr + 1), y=px_y(yb + 23), xref="paper", yref="paper",
                                    showarrow=False, xanchor="right", yanchor="middle",
                                    font=dict(family=FONT, size=9.5, color="#222")))
        if c == 0:
            annotations.append(dict(text="Performance metric", x=px_x(85), y=px_y((yt + yb) / 2),
                                    xref="paper", yref="paper", showarrow=False, textangle=-90,
                                    xanchor="center", yanchor="middle",
                                    font=dict(family=FONT, size=12.5, color="#111")))

annotations.append(dict(text="Southern basins", x=px_x(43), y=px_y(229), xref="paper", yref="paper",
                        showarrow=False, textangle=-90, xanchor="center", yanchor="middle",
                        font=dict(family="Lato", size=31, color="black")))
annotations.append(dict(text="Northern basin (Kuparuk)", x=px_x(35), y=px_y(683), xref="paper", yref="paper",
                        showarrow=False, textangle=-90, xanchor="center", yanchor="middle",
                        font=dict(family="Lato", size=31, color="black")))

fig.update_layout(width=W, height=H, margin=dict(l=0, r=0, t=0, b=0), showlegend=False,
                  paper_bgcolor="white", plot_bgcolor="white",
                  font=dict(family=FONT, size=10, color="#222"),
                  annotations=annotations, shapes=shapes, **layout)

fig.write_html("out.html", config={"displayModeBar": False},
               post_script="document.body.style.margin='0';document.body.style.overflow='hidden';")
